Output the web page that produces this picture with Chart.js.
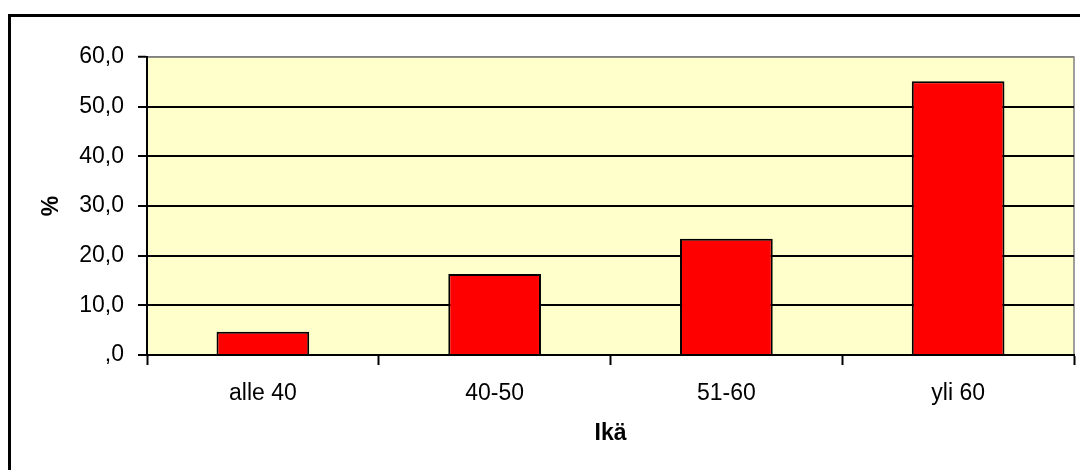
<!DOCTYPE html>
<html>
<head>
<meta charset="utf-8">
<script src="https://cdn.jsdelivr.net/npm/chart.js@4"></script>
<style>
  html, body { margin: 0; padding: 0; background: #fff; }
  #wrap { width: 1080px; height: 470px; }
</style>
</head>
<body>
<div id="wrap"><canvas id="chart"></canvas></div>
<script>
const categories = ['alle 40', '40-50', '51-60', 'yli 60'];
const values = [4.7, 16.3, 23.4, 55.1];
const yMin = 0;
const yMax = 60;
const yStep = 10;

// background of plot area + outer frame (only top/left of it show in the picture)
const framePlugin = {
    id: 'frame',
    beforeDraw(chart) {
        const {ctx, chartArea} = chart;
        ctx.save();
        ctx.fillStyle = '#FFFFCC';
        ctx.fillRect(chartArea.left, chartArea.top, chartArea.right - chartArea.left, chartArea.bottom - chartArea.top);
        ctx.strokeStyle = '#808080';
        ctx.lineWidth = 1.5;
        ctx.beginPath();
        ctx.moveTo(chartArea.left, chartArea.top);
        ctx.lineTo(chartArea.right, chartArea.top);
        ctx.lineTo(chartArea.right, chartArea.bottom);
        ctx.stroke();

        ctx.strokeStyle = '#000';
        ctx.lineWidth = 3;
        ctx.beginPath();
        ctx.moveTo(9.5, 480);
        ctx.lineTo(9.5, 15.5);
        ctx.lineTo(1090, 15.5);
        ctx.stroke();
        ctx.restore();
    }
};

function fmt(v) {
    if (v === 0) return ',0';
    return v.toFixed(1).replace('.', ',');
}

const font = { family: '"Liberation Sans", Arial, sans-serif', size: 23 };
const boldFont = { family: '"Liberation Sans", Arial, sans-serif', size: 23, weight: 'bold' };

new Chart(document.getElementById('chart'), {
    type: 'bar',
    data: {
        labels: categories,
        datasets: [{
            data: values,
            backgroundColor: '#FF0000',
            borderColor: '#000000',
            borderWidth: 2,
            categoryPercentage: 1,
            barPercentage: 0.4
        }]
    },
    options: {
        responsive: true,
        maintainAspectRatio: false,
        animation: false,
        layout: { padding: { top: 57, right: 6, left: 0, bottom: 0 } },
        plugins: {
            legend: { display: false },
            tooltip: { enabled: false }
        },
        scales: {
            x: {
                afterFit(scale) { scale.height = 115; },
                grid: {
                    offset: true,
                    drawOnChartArea: false,
                    drawTicks: true,
                    tickLength: 10,
                    tickColor: '#000',
                    tickWidth: 2
                },
                border: { color: '#000', width: 2 },
                ticks: { color: '#000', font, padding: 15 },
                title: {
                    display: true,
                    text: 'Ikä',
                    color: '#000',
                    font: boldFont,
                    padding: { top: 0, bottom: 23 }
                }
            },
            y: {
                min: yMin,
                max: yMax,
                afterFit(scale) { scale.width = 147; },
                grid: {
                    color: c => (c.tick && c.tick.value === yMax) ? '#808080' : '#000',
                    lineWidth: c => (c.tick && c.tick.value === yMax) ? 1.5 : 2,
                    drawTicks: true,
                    tickLength: 9,
                    tickColor: '#000',
                    tickWidth: 2
                },
                border: { color: '#000', width: 2 },
                ticks: {
                    stepSize: yStep,
                    color: '#000',
                    font,
                    padding: 14,
                    callback: v => fmt(v)
                },
                title: {
                    display: true,
                    text: '%',
                    color: '#000',
                    font: boldFont,
                    padding: { top: 38, bottom: 0 }
                }
            }
        }
    },
    plugins: [framePlugin]
});
</script>
</body>
</html>
